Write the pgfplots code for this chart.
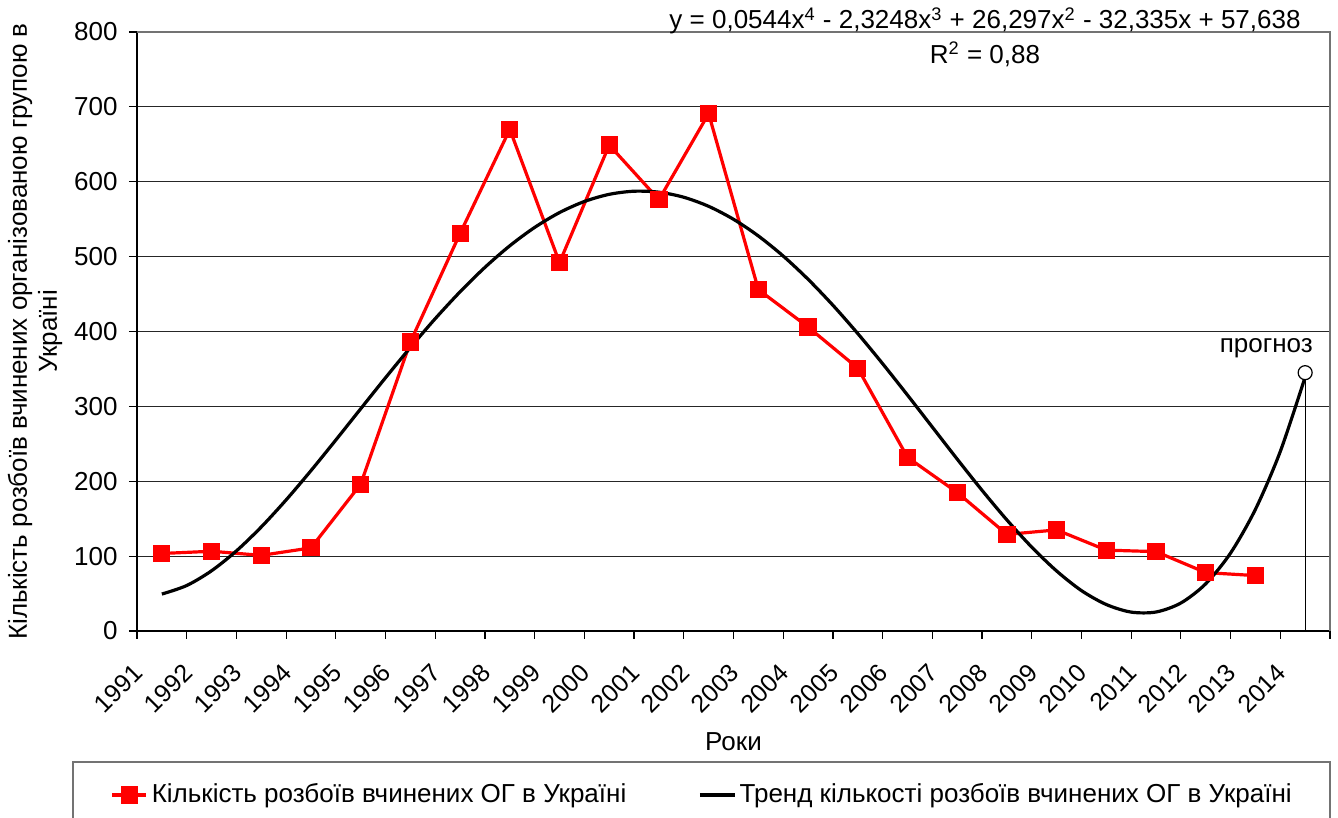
\documentclass[border=0pt]{standalone}
\usepackage{pgfplots}
\pgfplotsset{compat=1.18}
\usepackage{fontspec}
\setmainfont{Liberation Sans}
\definecolor{exred}{RGB}{255,0,0}
\begin{document}
\fontsize{13}{15}\selectfont
\begin{tikzpicture}
\begin{axis}[
  at={(68.5pt,93.5pt)}, anchor=south west,
  scale only axis, width=596.5pt, height=299.5pt,
  xmin=0, xmax=24, ymin=0, ymax=800,
  axis lines*=left,
  axis line style={black, line width=0.9pt},
  ytick={0,100,...,800},
  xtick={0.5,1.5,...,23.5},
  xticklabels={1991,1992,1993,1994,1995,1996,1997,1998,1999,2000,2001,2002,2003,2004,2005,2006,2007,2008,2009,2010,2011,2012,2013,2014},
  minor xtick={0,1,...,24},
  major x tick style={draw=none},
  minor x tick style={black, line width=0.6pt},
  major tick length=4pt, minor tick length=4pt,
  tick align=outside,
  y tick style={black, line width=0.6pt},
  ymajorgrids, grid style={black!85, line width=0.6pt},
  /pgf/number format/assume math mode=true,
  yticklabel style={inner sep=0pt, xshift=-5.5pt},
  xticklabel style={xshift=-15pt, yshift=-11.5pt, rotate=45, anchor=north east, inner sep=0pt, font=\fontsize{12.5}{14}\selectfont},
  xlabel={Роки},
  xlabel style={at={(axis description cs:0.5,-0.1853)}, anchor=center, inner sep=0pt},
  ylabel={Кількість розбоїв вчинених організованою групою в\\Україні},
  ylabel style={at={(axis description cs:-0.0855,0.5)}, anchor=center, align=center, inner sep=0pt},
  legend style={at={(axis description cs:0.4745,-0.2738)}, anchor=center, draw=none, fill=none,
    legend columns=2, /tikz/every even column/.append style={column sep=34pt}},
  clip=false,
]
\addplot[exred, line width=1.6pt, mark=square*, mark size=3.5pt, mark options={solid, fill=exred, draw=exred}]
coordinates {
(0.5,103.5) (1.5,106.5) (2.5,101) (3.5,111) (4.5,196) (5.5,386) (6.5,531) (7.5,670)
(8.5,492) (9.5,649) (10.5,576) (11.5,691) (12.5,456) (13.5,406) (14.5,351) (15.5,232)
(16.5,185) (17.5,129) (18.5,135) (19.5,108) (20.5,106) (21.5,78) (22.5,74)
};
\addlegendentry{Кількість розбоїв вчинених ОГ в Україні}
\addplot[black, line width=1.6pt, smooth]
coordinates {
(0.5,49.33) (1,60.73) (1.5,80.43) (2,106.96) (2.5,138.94) (3,175.09) (3.5,214.19) (4,255.10)
(4.5,296.79) (5,338.27) (5.5,378.67) (6,417.17) (6.5,453.05) (7,485.68) (7.5,514.49) (8,539.00)
(8.5,558.82) (9,573.63) (9.5,583.19) (10,587.35) (10.5,586.05) (11,579.29) (11.5,567.17) (12,549.86)
(12.5,527.61) (13,500.76) (13.5,469.74) (14,435.04) (14.5,397.24) (15,357.01) (15.5,315.09) (16,272.31)
(16.5,229.58) (17,187.88) (17.5,148.30) (18,111.97) (18.5,80.15) (19,53.94) (19.5,35.34) (20,25.23)
(20.5,25.37) (21,37.41) (21.5,63.07) (22,104.16) (22.5,162.55) (23,239.83) (23.5,339.25)
};
\addlegendentry{Тренд кількості розбоїв вчинених ОГ в Україні}
\addplot[black, line width=0.6pt, forget plot] coordinates {(23.5,0) (23.5,345)};
\addplot[only marks, mark=*, mark size=3.5pt, mark options={fill=white, draw=black, line width=0.6pt}, forget plot] coordinates {(23.5,345)};
\draw[black!55, line width=0.6pt] (axis cs:0,800) -- (axis cs:24,800) -- (axis cs:24,0);
\node[anchor=base east, inner sep=0pt] at (axis cs:23.66,371.7) {прогноз};
\node[anchor=base, inner sep=0pt] at (axis cs:17.06,804) {y = 0,0544x\textsuperscript{4} - 2,3248x\textsuperscript{3} + 26,297x\textsuperscript{2} - 32,335x + 57,638};
\node[anchor=base, inner sep=0pt] at (axis cs:17.06,758) {R\textsuperscript{2} = 0,88};
\end{axis}
\draw[black!55, line width=0.6pt] (36.5pt,-3pt) rectangle (665pt,28pt);
\pgfresetboundingbox
\useasboundingbox (0,0) rectangle (669pt,409pt);
\end{tikzpicture}
\end{document}
